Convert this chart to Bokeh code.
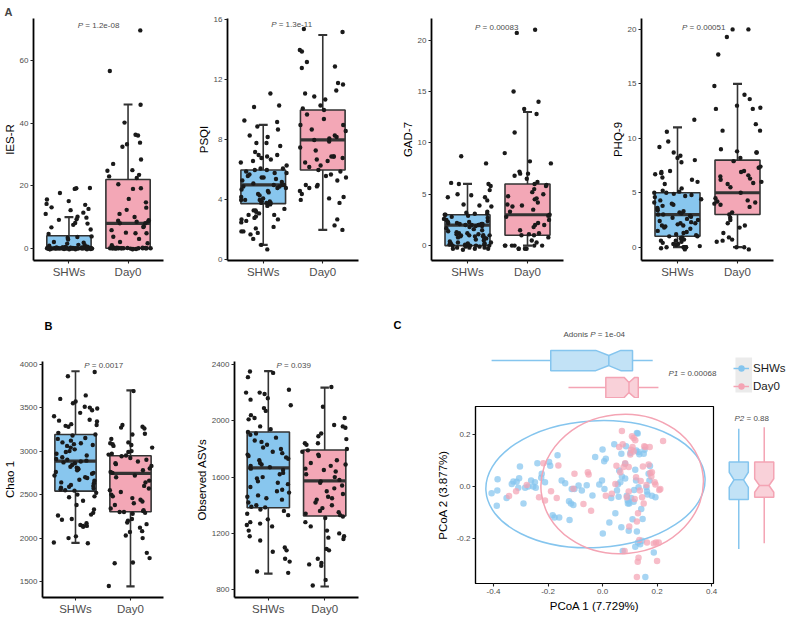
from bokeh.plotting import figure
from bokeh.models import (ColumnDataSource, Range1d, FixedTicker, Label, Legend,
                          LegendItem, BoxAnnotation, CustomJSTickFormatter)
from bokeh.layouts import row, column
from bokeh.transform import jitter, dodge
from bokeh.embed import file_html
from bokeh.resources import INLINE

FONT = "Liberation Sans"
BLUE_BOX = "#88C6EE"
PINK_BOX = "#F3A7B6"
BLUE = "#85C5EE"
PINK = "#F4A4B4"
DARK = "#333333"
GREY_TXT = "#4D4D4D"

# ---------------- data ----------------
categories = ["SHWs", "Day0"]

ies_shws = [19.2, 19.3, 19.0, 17.7, 15.6, 15.1, 14.2, 13.9, 13.1, 12.6, 12.2, 11.4, 11.0, 10.1, 9.8,
            9.3, 9.1, 8.1, 7.9, 7.5, 6.7, 6.0, 4.6, 3.8, 3.6, 3.4, 2.8, 2.0, 1.8, 1.5, 1.1, 1.0, 0.8,
            0.5, 0.4, 0.3, 0.3, 0.2, 0.2, 0.1, 0.1, 0.1, 0.0, 0.0, 0.0, 0.0, 0.0, 0.0, 0.0, 0.0, 0.0,
            0.0, 0.0, 0.0, 0.0, 0.0, 0.0, 0.0, 0.0, 0.0, -0.1, -0.1, -0.1, -0.1, -0.2, -0.2, -0.2,
            -0.2, -0.3, -0.3, -0.3, 0.1, 0.2, 0.2, 0.3, -0.1, 0.0, 0.0, 0.0, 0.1, -0.2, 0.0, 0.0,
            0.1, -0.1, 0.2, 0.0, 0.0, -0.3, 0.1]
ies_day0 = [69.7, 56.7, 45.9, 40.2, 36.3, 36.1, 33.8, 33.3, 32.5, 28.4, 27.0, 25.0, 24.8, 23.5,
            23.0, 22.5, 20.5, 19.2, 19.0, 15.8, 14.7, 13.0, 12.3, 11.0, 10.0, 9.0, 8.8, 8.6, 8.5,
            8.0, 8.0, 7.0, 6.8, 5.8, 5.0, 4.8, 4.8, 3.7, 3.0, 2.0, 1.6, 1.0, 0.3, 0.2, 0.1, 0.0,
            0.0, 0.0, 0.0, 0.0, 0.0, 0.0, 0.0, 0.0, 0.0, -0.1, -0.1, -0.2, -0.2, 0.1, 0.0, 0.0,
            0.0, -0.3, 0.2, 0.0, 0.1]

psqi_shws = [11.1, 10.3, 10.2, 9.3, 9.2, 8.9, 8.7, 8.3, 8.2, 7.8, 7.8, 7.6, 7.2, 7.0, 7.0, 6.9,
             6.8, 6.7, 6.6, 6.5, 6.3, 6.1, 6.1, 6.0, 6.0, 5.9, 5.8, 5.8, 5.7, 5.6, 5.5, 5.5, 5.4,
             5.3, 5.2, 5.1, 5.0, 5.0, 5.0, 4.9, 4.9, 4.8, 4.8, 4.7, 4.6, 4.5, 4.4, 4.3, 4.2, 4.1,
             4.0, 4.0, 4.0, 3.9, 3.9, 3.8, 3.8, 3.8, 3.7, 3.6, 3.4, 3.3, 3.3, 3.2, 3.1, 3.0, 3.0,
             2.9, 2.8, 2.7, 2.7, 2.6, 2.5, 2.2, 2.1, 1.9, 1.9, 1.8, 1.7, 1.4, 1.0, 0.7]
psqi_day0 = [15.4, 15.2, 14.0, 13.9, 13.2, 12.9, 12.8, 11.8, 11.7, 11.3, 11.1, 10.9, 10.7, 10.3,
             10.1, 10.0, 9.7, 9.4, 9.0, 9.0, 8.7, 8.6, 8.3, 8.2, 8.1, 8.0, 7.9, 7.5, 7.3, 6.9, 6.9,
             6.9, 6.8, 6.7, 6.6, 6.5, 6.3, 6.2, 6.0, 5.9, 5.7, 5.6, 5.5, 5.3, 5.0, 5.0, 4.9, 4.8,
             4.6, 4.4, 4.2, 4.1, 4.0, 3.8, 2.7, 2.3, 2.0]

gad_shws = [8.7, 8.0, 6.1, 6.0, 6.0, 5.8, 5.4, 5.0, 4.9, 4.7, 4.7, 4.4, 4.0, 3.9, 3.8, 3.3, 3.2,
            3.1, 3.1, 3.0, 3.0, 2.9, 2.8, 2.7, 2.6, 2.5, 2.4, 2.3, 2.2, 2.2, 2.1, 2.1, 2.0, 2.0,
            2.0, 1.9, 1.9, 1.8, 1.7, 1.6, 1.5, 1.4, 1.3, 1.2, 1.1, 1.1, 1.0, 1.0, 1.0, 0.9, 0.9,
            0.8, 0.8, 0.7, 0.6, 0.5, 0.4, 0.3, 0.3, 0.2, 0.2, 0.1, 0.1, 0.0, 0.0, 0.0, 0.0, -0.1,
            -0.1, -0.2, -0.2, -0.3, -0.3, -0.3, -0.4, 0.1, 0.2, 1.0, 2.0, 2.1, 1.2, 0.9, 0.0,
            -0.2, 2.3]
gad_day0 = [21.0, 20.7, 15.0, 14.0, 13.3, 12.8, 11.0, 9.0, 8.2, 8.0, 7.2, 7.0, 7.0, 6.8, 6.5,
            6.2, 5.8, 5.5, 5.2, 5.0, 4.8, 4.5, 4.2, 4.0, 3.8, 3.5, 3.3, 3.0, 2.8, 2.5, 2.2, 2.0,
            2.0, 1.8, 1.5, 1.2, 1.0, 1.0, 0.8, 0.5, 0.3, 0.0, 0.0, 0.0, 0.0, 0.0, 0.0, -0.3, -0.3,
            -0.3, -0.3, 1.1, 2.9, 3.9, 5.9, 6.0, 4.6]

phq_shws = [11.7, 10.6, 9.7, 9.2, 8.7, 8.4, 8.2, 8.0, 7.8, 7.0, 6.9, 6.8, 6.7, 6.4, 6.2, 6.0, 5.8,
            5.4, 5.2, 5.0, 5.0, 4.9, 4.8, 4.6, 4.4, 4.3, 4.1, 4.0, 3.9, 3.8, 3.6, 3.5, 3.3, 3.2,
            3.1, 3.0, 3.0, 2.9, 2.8, 2.7, 2.6, 2.5, 2.3, 2.2, 2.2, 2.1, 2.0, 2.0, 1.9, 1.8, 1.7,
            1.5, 1.4, 1.3, 1.2, 1.0, 1.0, 0.9, 0.8, 0.7, 0.6, 0.5, 0.4, 0.3, 0.2, 0.1, 0.0, 0.0,
            0.0, 0.0, -0.1, -0.2, 0.0, 0.3, 0.6, 1.1, 2.4, 3.4, 4.7, 5.1]
phq_day0 = [20.0, 20.0, 19.3, 17.7, 14.8, 14.0, 13.6, 13.0, 12.8, 12.7, 12.7, 11.3, 10.7, 10.7,
            9.0, 8.8, 8.7, 8.7, 8.2, 7.9, 7.3, 7.0, 6.9, 6.5, 6.3, 6.0, 5.8, 5.5, 5.0, 4.5, 4.3,
            4.2, 4.0, 3.9, 3.7, 3.2, 2.7, 2.5, 2.2, 2.0, 1.8, 1.3, 0.9, 0.7, 0.6, 0.5, 0.0, 0.0,
            -0.2, 6.2, 5.9, 4.1, 3.0, 6.6, 7.4]

chao_shws = [3910, 3860, 3640, 3600, 3570, 3550, 3510, 3500, 3490, 3470, 3440, 3400, 3360, 3350,
             3340, 3310, 3300, 3290, 3280, 3210, 3190, 3180, 3150, 3140, 3120, 3100, 3090, 3080,
             3070, 3060, 3040, 3020, 3000, 2990, 2970, 2950, 2930, 2910, 2900, 2890, 2880, 2870,
             2860, 2840, 2820, 2810, 2800, 2790, 2780, 2760, 2750, 2740, 2720, 2700, 2690, 2670,
             2660, 2640, 2630, 2610, 2600, 2590, 2580, 2570, 2560, 2550, 2545, 2520, 2500, 2480,
             2470, 2430, 2380, 2330, 2290, 2270, 2260, 2220, 2210, 2170, 2150, 2140, 2140, 2130,
             2020, 2000, 1950, 1940]
chao_day0 = [3690, 3300, 3280, 3270, 3260, 3200, 3190, 3140, 3100, 3090, 3080, 3070, 3060, 3040,
             3000, 2990, 2970, 2960, 2950, 2940, 2920, 2900, 2880, 2860, 2850, 2830, 2800, 2780,
             2760, 2750, 2720, 2700, 2660, 2640, 2600, 2570, 2550, 2530, 2500, 2480, 2460, 2440,
             2420, 2400, 2380, 2340, 2320, 2310, 2300, 2300, 2290, 2280, 2220, 2200, 2180, 2160,
             2120, 2080, 2070, 2030, 2000, 1830, 1770, 1720, 1710, 1450]

asv_shws = [2350, 2340, 2310, 2220, 2200, 2200, 2190, 2160, 2150, 2110, 2090, 2070, 2040, 2020,
            2010, 1960, 1940, 1920, 1910, 1900, 1880, 1860, 1850, 1830, 1810, 1800, 1780, 1770,
            1760, 1750, 1740, 1730, 1720, 1700, 1690, 1680, 1670, 1660, 1650, 1630, 1620, 1600,
            1590, 1570, 1560, 1550, 1530, 1510, 1500, 1490, 1470, 1460, 1450, 1440, 1420, 1400,
            1390, 1385, 1370, 1360, 1340, 1330, 1300, 1280, 1270, 1260, 1250, 1220, 1180, 1150,
            1100, 1080, 1070, 1020, 1000, 930, 920]
asv_day0 = [2240, 2100, 2020, 1970, 1960, 1950, 1910, 1890, 1870, 1840, 1840, 1830, 1800, 1790,
            1780, 1760, 1750, 1720, 1700, 1690, 1680, 1660, 1650, 1640, 1620, 1600, 1580, 1570,
            1560, 1540, 1520, 1500, 1480, 1460, 1450, 1440, 1420, 1400, 1380, 1360, 1350, 1340,
            1330, 1320, 1310, 1280, 1250, 1220, 1200, 1180, 1170, 1160, 1090, 1080, 1020, 990,
            980, 970, 870, 830]

# box summaries: [lower whisker, q1, median, q3, upper whisker]
ies_box_shws, ies_box_day0 = [0, 0, 0, 4, 10], [0, 0, 8, 22, 46]
psqi_box_shws, psqi_box_day0 = [1, 3.75, 5, 6, 9], [2, 6, 8, 10, 15]
gad_box_shws, gad_box_day0 = [0, 0, 2, 3, 6], [0, 1, 3, 6, 13]
phq_box_shws, phq_box_day0 = [0, 1, 3, 5, 11], [0, 3, 5, 8, 15]
chao_box_shws, chao_box_day0 = [1945, 2540, 2885, 3190, 3918], [1444, 2303, 2745, 2946, 3697]
asv_box_shws, asv_box_day0 = [915, 1382, 1666, 1920, 2352], [823, 1324, 1573, 1793, 2236]

ies_ticks = [0, 20, 40, 60]
psqi_ticks = [0, 4, 8, 12, 16]
gad_ticks = [0, 5, 10, 15, 20]
phq_ticks = [0, 5, 10, 15, 20]
chao_ticks = [1500, 2000, 2500, 3000, 3500, 4000]
asv_ticks = [800, 1200, 1600, 2000, 2400]

pvalues = ["= 1.2e-08", "= 1.3e-11", "=  0.00083", "= 0.00051", "= 0.0017", "= 0.039"]

# PCoA coordinates
pc1_shws = [-0.407, -0.386, -0.385, -0.388, -0.352, -0.333, -0.327, -0.315, -0.306, -0.303, -0.309,
            -0.290, -0.284, -0.272, -0.262, -0.254, -0.248, -0.245, -0.239, -0.225, -0.223, -0.211,
            -0.196, -0.192, -0.183, -0.176, -0.165, -0.159, -0.150, -0.137, -0.123, -0.116, -0.113,
            -0.107, -0.103, -0.121, -0.088, -0.076, -0.058, -0.037, -0.027, -0.012, -0.002, 0.000,
            0.006, 0.007, 0.012, 0.001, 0.025, 0.032, 0.043, 0.047, 0.053, 0.056, 0.059, 0.061,
            0.065, 0.069, 0.069, 0.071, 0.074, 0.083, 0.083, 0.086, 0.089, 0.092, 0.093, 0.096,
            0.098, 0.102, 0.105, 0.110, 0.114, 0.116, 0.120, 0.123, 0.124, 0.126, 0.126, 0.129,
            0.130, 0.132, 0.135, 0.138, 0.142, 0.145, 0.147, 0.151, 0.154, 0.157, 0.161, 0.163,
            0.165, 0.169, 0.172, 0.174, 0.181, 0.188, 0.194, 0.120, 0.132]
pc2_shws = [-0.026, -0.015, 0.028, -0.074, -0.044, 0.010, 0.019, 0.018, 0.032, 0.077, -0.005,
            -0.065, -0.005, 0.000, 0.023, 0.000, 0.017, -0.005, 0.090, 0.034, 0.049, 0.017, 0.094,
            0.080, -0.110, -0.119, 0.120, -0.119, 0.023, 0.013, -0.057, -0.065, -0.009, -0.071,
            -0.009, -0.129, 0.004, -0.015, 0.005, -0.034, 0.114, 0.008, 0.023, 0.143, 0.097,
            -0.009, 0.107, -0.181, -0.138, -0.044, 0.163, -0.103, -0.015, 0.008, -0.039, 0.062,
            0.017, 0.126, -0.157, 0.039, -0.248, 0.031, 0.088, 0.155, -0.035, -0.054, -0.065,
            -0.170, -0.065, 0.129, -0.044, -0.126, -0.058, -0.013, 0.065, 0.023, 0.139, 0.206,
            -0.173, 0.204, -0.215, 0.133, 0.124, -0.222, -0.086, -0.209, -0.125, 0.126, 0.142,
            -0.348, -0.003, -0.019, -0.031, 0.049, 0.023, 0.079, -0.035, -0.254, -0.041, -0.232,
            -0.003]
pc1_day0 = [-0.343, -0.317, -0.278, -0.233, -0.217, -0.211, -0.189, -0.162, -0.168, -0.103, -0.107,
            -0.054, -0.070, -0.051, -0.042, 0.012, 0.034, 0.047, 0.051, 0.061, 0.065, 0.071, 0.074,
            0.077, 0.083, 0.089, 0.096, 0.096, 0.098, 0.102, 0.105, 0.108, 0.110, 0.114, 0.114,
            0.118, 0.120, 0.123, 0.126, 0.130, 0.132, 0.135, 0.137, 0.140, 0.145, 0.148, 0.151,
            0.153, 0.157, 0.161, 0.163, 0.169, 0.173, 0.175, 0.179, 0.181, 0.188, 0.191, 0.194,
            0.196, 0.200, 0.206, 0.208, 0.212, 0.222, 0.129, 0.126, 0.081]
pc2_day0 = [-0.036, -0.018, 0.006, -0.041, 0.090, -0.054, -0.018, 0.081, -0.044, 0.049, -0.008,
            0.055, -0.067, 0.046, -0.093, -0.035, -0.028, 0.010, 0.080, 0.152, 0.055, 0.214, 0.163,
            0.075, 0.090, -0.041, 0.075, -0.019, -0.154, 0.123, 0.142, 0.194, 0.152, 0.187, 0.135,
            -0.048, 0.178, 0.036, -0.134, -0.103, -0.274, -0.206, -0.015, 0.021, -0.041, 0.077,
            -0.065, 0.155, 0.152, 0.006, -0.215, 0.085, 0.152, 0.052, 0.039, 0.055, -0.219, 0.017,
            0.008, -0.215, -0.286, -0.215, -0.013, -0.009, 0.175, -0.289, -0.348, -0.248]

# confidence ellipses: centre x, centre y, width, height, angle (rad)
ell_x = [-0.026, 0.072]
ell_y = [0.009, 0.010]
ell_w = [0.805, 0.597]
ell_h = [0.488, 0.536]
ell_angle = [0.058, 0.10]

# marginal notched boxes: [lower whisker, q1, notch low, median, notch high, q3, upper whisker]
pc1_box_shws = [-0.407, -0.190, -0.025, 0.023, 0.067, 0.110, 0.184]
pc1_box_day0 = [-0.125, 0.012, 0.079, 0.097, 0.118, 0.131, 0.205]
pc2_box_shws = [-0.240, -0.050, -0.003, 0.026, 0.055, 0.094, 0.222]
pc2_box_day0 = [-0.218, -0.041, -0.022, 0.004, 0.030, 0.094, 0.228]


# ---------------- helpers ----------------
def base_fig(width, height, border, xr, yr, axes=True):
    l, r, t, b = border
    kw = {} if axes else dict(x_axis_type=None, y_axis_type=None)
    p = figure(width=width, height=height, x_range=Range1d(*xr), y_range=Range1d(*yr),
               min_border_left=l, min_border_right=r, min_border_top=t, min_border_bottom=b,
               output_backend="svg", toolbar_location=None, **kw)
    p.xgrid.visible = False
    p.ygrid.visible = False
    p.outline_line_color = None
    p.background_fill_color = "white"
    p.border_fill_color = "white"
    return p


def style_axis(ax, size, color, line_width=1.8):
    ax.axis_line_color = "black"
    ax.axis_line_width = line_width
    ax.major_tick_line_color = "#222222"
    ax.major_tick_line_width = 1.1
    ax.major_tick_in = 0
    ax.major_tick_out = 3
    ax.minor_tick_line_color = None
    ax.major_label_text_font = FONT
    ax.major_label_text_font_size = size
    ax.major_label_text_color = color
    ax.major_label_standoff = 2
    ax.axis_label_text_font = FONT
    ax.axis_label_text_font_size = "11.5px"
    ax.axis_label_text_font_style = "normal"
    ax.axis_label_text_color = "black"
    ax.axis_label_standoff = 1


def txt(p, x, y, text, style="normal", size="8px", color=GREY_TXT, dx=0):
    p.add_layout(Label(x=x, y=y, x_offset=dx, text=text, text_font=FONT, text_font_size=size,
                       text_font_style=style, text_color=color,
                       text_baseline="middle", text_align="left"))


def add_p(p, x, y, rest, italic="P", gap=7.5):
    txt(p, x, y, italic, style="italic")
    txt(p, x, y, rest, dx=gap)


def box_panel(width, height, border, yr, yticks, ylabel, shws, day0, st_shws, st_day0):
    p = base_fig(width, height, border, (0.4, 2.6), yr)
    stats = [st_shws, st_day0]
    box = ColumnDataSource(dict(
        pos=[i + 1 for i in range(len(categories))],
        lo=[s[0] for s in stats], q1=[s[1] for s in stats], med=[s[2] for s in stats],
        q3=[s[3] for s in stats], hi=[s[4] for s in stats], fill=[BLUE_BOX, PINK_BOX]))
    p.segment(x0="pos", y0="lo", x1="pos", y1="hi", source=box, line_color=DARK, line_width=1.6)
    for end in ("lo", "hi"):
        p.segment(x0=dodge("pos", -0.075), y0=end, x1=dodge("pos", 0.075), y1=end, source=box,
                  line_color=DARK, line_width=2.2)
    p.vbar(x="pos", width=0.75, bottom="q1", top="q3", source=box, fill_color="fill",
           line_color=DARK, line_width=1.6)
    p.segment(x0=dodge("pos", -0.375), y0="med", x1=dodge("pos", 0.375), y1="med", source=box,
              line_color=DARK, line_width=3.2)
    pts = ColumnDataSource(dict(g=[1] * len(shws) + [2] * len(day0), v=list(shws) + list(day0)))
    p.scatter(x=jitter("g", width=0.8, distribution="uniform"), y="v", source=pts, size=4.4,
              fill_color="#1A1A1A", line_color=None)
    p.xaxis.ticker = FixedTicker(ticks=[1, 2])
    p.xaxis.formatter = CustomJSTickFormatter(args=dict(labels=categories), code="""
        const i = Math.round(tick) - 1;
        return (i >= 0 && i < labels.length) ? labels[i] : "";
    """)
    p.yaxis.ticker = FixedTicker(ticks=yticks)
    p.yaxis.axis_label = ylabel
    style_axis(p.xaxis[0], "11.5px", GREY_TXT)
    style_axis(p.yaxis[0], "8px", GREY_TXT)
    return p


# ---------------- panel A ----------------
a1 = box_panel(175, 290, (32, 12, 18, 30), (-3.9, 73.5), ies_ticks, "IES-R",
               ies_shws, ies_day0, ies_box_shws, ies_box_day0)
a2 = box_panel(195, 290, (52, 12, 18, 30), (-0.04, 16.1), psqi_ticks, "PSQI",
               psqi_shws, psqi_day0, psqi_box_shws, psqi_box_day0)
a3 = box_panel(205, 290, (61, 12, 18, 30), (-1.45, 22.1), gad_ticks, "GAD-7",
               gad_shws, gad_day0, gad_box_shws, gad_box_day0)
a4 = box_panel(216, 290, (66, 18, 18, 30), (-1.22, 21.0), phq_ticks, "PHQ-9",
               phq_shws, phq_day0, phq_box_shws, phq_box_day0)
add_p(a1, 1.15, 71.3, pvalues[0])
add_p(a2, 1.133, 15.67, pvalues[1])
add_p(a3, 1.126, 21.2, pvalues[2])
add_p(a4, 1.077, 20.2, pvalues[3])
a1.title.text = "A"
a1.title.align = "left"
a1.title.offset = -29
a1.title.standoff = 2
a1.title.text_font = FONT
a1.title.text_font_size = "11px"
a1.title.text_font_style = "bold"

# ---------------- panel B ----------------
bletter = base_fig(175, 45, (0, 0, 0, 0), (0, 1), (0, 1), axes=False)
txt(bletter, 0.017, 0.222, "B", style="bold", size="11px", color="black")
b1 = box_panel(175, 282, (39, 12, 26, 17), (1317, 4030), chao_ticks, "Chao 1",
               chao_shws, chao_day0, chao_box_shws, chao_box_day0)
b2 = box_panel(195, 327, (59, 12, 71, 17), (745, 2421), asv_ticks, "Observed ASVs",
               asv_shws, asv_day0, asv_box_shws, asv_box_day0)
add_p(b1, 1.16, 3985, pvalues[4])
add_p(b2, 1.145, 2391, pvalues[5])

# ---------------- panel C ----------------
XR = (-0.466, 0.407)
YR = (-0.373, 0.308)
HW = 0.375  # half box width


def notched(stats, pos, horizontal):
    lo, q1, nlo, med, nhi, q3, hi = stats
    along = [q1, nlo, med, nhi, q3, q3, nhi, med, nlo, q1]
    across = [pos - HW, pos - HW, pos - HW / 2, pos - HW, pos - HW,
              pos + HW, pos + HW, pos + HW / 2, pos + HW, pos + HW]
    return (along, across) if horizontal else (across, along)


# top marginal boxes (PCoA 1): same x scale as the scatter, frame widened to hold the texts
topbox = base_fig(353, 108, (0, 0, 0, 0), (-0.8512, 0.4437), (0.593, 4.593), axes=False)
for stats, pos, col in ((pc1_box_shws, 2, BLUE), (pc1_box_day0, 1, PINK)):
    xs, ys = notched(stats, pos, True)
    topbox.patch(xs, ys, fill_color=col, fill_alpha=0.5, line_color=col, line_width=1.5)
    wsrc = ColumnDataSource(dict(x0=[stats[0], stats[5]], x1=[stats[1], stats[6]], y=[pos, pos]))
    topbox.segment(x0="x0", y0="y", x1="x1", y1="y", source=wsrc, line_color=col, line_width=1.5)
    msrc = ColumnDataSource(dict(m=[stats[3]], y=[pos]))
    topbox.segment(x0="m", y0=dodge("y", -HW / 2), x1="m", y1=dodge("y", HW / 2), source=msrc,
                   line_color=col, line_width=1.5)
add_p(topbox, 0.242, 1.519, "= 0.00068", italic="P1", gap=12)
txt(topbox, -0.1432, 2.963, "Adonis")
txt(topbox, -0.1432, 2.963, "P", style="italic", dx=26.7)
txt(topbox, -0.1432, 2.963, "= 1e-04", dx=34.2)
txt(topbox, -0.767, 3.297, "C", style="bold", size="11px", color="black")

# legend figure
legfig = base_fig(68, 108, (0, 0, 0, 0), (0, 1), (0, 1), axes=False)
legfig.add_layout(BoxAnnotation(left=0.176, right=0.42, bottom=0.056, top=0.38,
                                fill_color="#EBEBEB", fill_alpha=1, line_color=None,
                                level="underlay"))
items = []
for name, col in zip(categories, (BLUE, PINK)):
    src = ColumnDataSource(dict(x=[float("nan")], y=[float("nan")]))
    lr = legfig.line(x="x", y="y", source=src, line_color=col, line_width=1.5)
    sr = legfig.scatter(x="x", y="y", source=src, size=6, fill_color=col, line_color=None)
    items.append(LegendItem(label=name, renderers=[lr, sr]))
leg = Legend(items=items, location=(10, 4), margin=0, padding=2, spacing=2,
             glyph_width=16, glyph_height=16, label_height=16, label_standoff=4,
             label_text_font=FONT, label_text_font_size="11.5px", label_text_color="#1A1A1A",
             background_fill_alpha=0, border_line_color=None)
legfig.add_layout(leg)

# scatter
sc = base_fig(353, 219, (105, 10, 8, 34), XR, YR)
sc.outline_line_color = "black"
sc.outline_line_width = 1.2
esrc = ColumnDataSource(dict(x=ell_x, y=ell_y, w=ell_w, h=ell_h, a=ell_angle, c=[BLUE, PINK]))
sc.scatter(pc1_shws, pc2_shws, size=6.5, fill_color=BLUE, fill_alpha=0.72, line_color=None)
sc.scatter(pc1_day0, pc2_day0, size=6.5, fill_color=PINK, fill_alpha=0.72, line_color=None)
sc.ellipse(x="x", y="y", width="w", height="h", angle="a", source=esrc, fill_color=None,
           line_color="c", line_width=1.5)
sc.xaxis.ticker = FixedTicker(ticks=[-0.4, -0.2, 0.0, 0.2, 0.4])
sc.yaxis.ticker = FixedTicker(ticks=[-0.2, 0.0, 0.2])
fmt = CustomJSTickFormatter(code="return tick.toFixed(1);")
sc.xaxis.formatter = fmt
sc.yaxis.formatter = fmt
sc.xaxis.axis_label = "PCoA 1 (7.729%)"
sc.yaxis.axis_label = "PCoA 2 (3.877%)"
style_axis(sc.xaxis[0], "8px", GREY_TXT, line_width=1.2)
style_axis(sc.yaxis[0], "8px", GREY_TXT, line_width=1.2)
sc.xaxis.axis_label_standoff = 3
sc.yaxis.axis_label_standoff = 5

# right marginal boxes (PCoA 2)
rbox = base_fig(68, 219, (0, 12, 8, 34), (0.4, 2.6), YR, axes=False)
for stats, pos, col in ((pc2_box_shws, 1, BLUE), (pc2_box_day0, 2, PINK)):
    xs, ys = notched(stats, pos, False)
    rbox.patch(xs, ys, fill_color=col, fill_alpha=0.5, line_color=col, line_width=1.5)
    wsrc = ColumnDataSource(dict(y0=[stats[0], stats[5]], y1=[stats[1], stats[6]], x=[pos, pos]))
    rbox.segment(x0="x", y0="y0", x1="x", y1="y1", source=wsrc, line_color=col, line_width=1.5)
    msrc = ColumnDataSource(dict(m=[stats[3]], x=[pos]))
    rbox.segment(x0=dodge("x", -HW / 2), y0="m", x1=dodge("x", HW / 2), y1="m", source=msrc,
                 line_color=col, line_width=1.5)
add_p(rbox, 0.832, 0.262, "= 0.88", italic="P2", gap=12)

# ---------------- layout ----------------
c_col = column(row(topbox, legfig), row(sc, rbox))
layout = column(row(a1, a2, a3, a4), row(column(bletter, b1), b2, c_col))

open("out.html", "w").write(file_html(layout, INLINE))
